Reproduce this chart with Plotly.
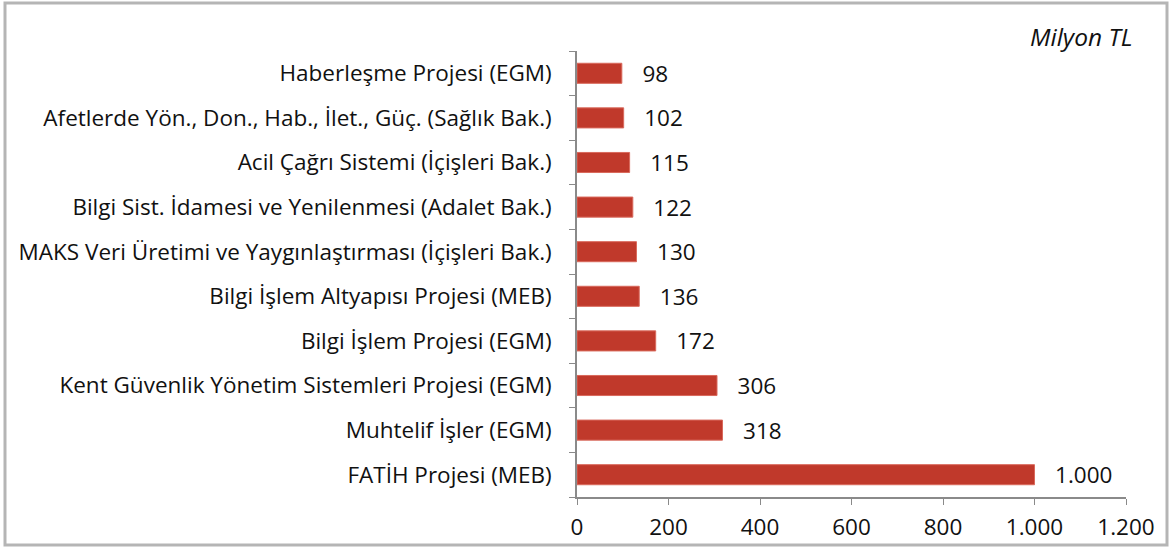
import plotly.graph_objects as go

categories = [
    "FATİH Projesi (MEB)",
    "Muhtelif İşler (EGM)",
    "Kent Güvenlik Yönetim Sistemleri Projesi (EGM)",
    "Bilgi İşlem Projesi (EGM)",
    "Bilgi İşlem Altyapısı Projesi (MEB)",
    "MAKS Veri Üretimi ve Yaygınlaştırması (İçişleri Bak.)",
    "Bilgi Sist. İdamesi ve Yenilenmesi (Adalet Bak.)",
    "Acil Çağrı Sistemi (İçişleri Bak.)",
    "Afetlerde Yön., Don., Hab., İlet., Güç. (Sağlık Bak.)",
    "Haberleşme Projesi (EGM)",
]
values = [1000, 318, 306, 172, 136, 130, 122, 115, 102, 98]
tick_vals = [0, 200, 400, 600, 800, 1000, 1200]
tick_text = ["0", "200", "400", "600", "800", "1.000", "1.200"]
value_text = ["1.000", "318", "306", "172", "136", "130", "122", "115", "102", "98"]

W, H = 1173, 548
L, R, T, B = 577, 47, 51, 51
pw, ph = W - L - R, H - T - B

FONT = "'Open Sans', 'Noto Sans', Arial, sans-serif"
FS = 22.5

fig = go.Figure(go.Bar(
    y=categories, x=values, orientation="h",
    marker=dict(color="#C0392B", line=dict(color="#D9695C", width=1)),
    text=["   " + t for t in value_text], textposition="outside",
    constraintext="none",
    textfont=dict(size=FS, color="#111", family=FONT),
    cliponaxis=False,
))

def px_to_paper_x(px):
    return (px - L) / pw

def px_to_paper_y(py):
    return (H - B - py) / ph

fig.add_shape(type="rect", xref="paper", yref="paper",
              x0=px_to_paper_x(5), x1=px_to_paper_x(1167),
              y0=px_to_paper_y(545), y1=px_to_paper_y(3),
              line=dict(color="#B5B5B5", width=3), layer="below")

fig.add_annotation(text="<i>Milyon TL</i>", xref="paper", yref="paper",
                   x=px_to_paper_x(1134), y=px_to_paper_y(37),
                   xanchor="right", yanchor="middle", showarrow=False,
                   font=dict(size=24.5, color="#111", family=FONT))

fig.update_layout(
    width=W, height=H,
    margin=dict(l=L, r=R, t=T, b=B),
    paper_bgcolor="white", plot_bgcolor="white",
    bargap=0.55, showlegend=False,
    font=dict(family=FONT, size=FS, color="#111"),
    xaxis=dict(range=[0, 1200], tickvals=tick_vals, ticktext=tick_text,
               showgrid=False, zeroline=False, showline=True,
               linecolor="#8A8A8A", linewidth=1.5, ticks="outside",
               ticklen=6, tickcolor="#8A8A8A", tickfont=dict(size=FS),
               ticklabelstandoff=3, automargin=False),
    yaxis=dict(showgrid=False, zeroline=False, showline=True,
               linecolor="#8A8A8A", linewidth=1.5, ticks="outside",
               ticklen=6, tickcolor="#8A8A8A", tickson="boundaries",
               tickfont=dict(size=FS), ticklabelstandoff=19, automargin=False,
               categoryorder="array", categoryarray=categories),
)

post = (
    "var d=document.documentElement,b=document.body;"
    "d.style.margin='0';d.style.padding='0';d.style.overflow='hidden';"
    "d.style.height='548px';"
    "b.style.margin='0';b.style.padding='0';b.style.overflow='hidden';"
    "b.style.height='548px';"
)

fig.write_html("out.html", config={"displayModeBar": False, "responsive": False},
               post_script=post)
